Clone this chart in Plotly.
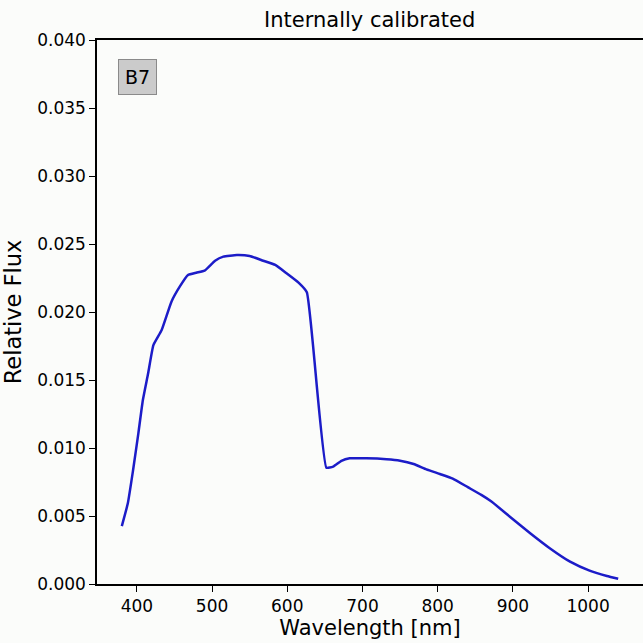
import plotly.graph_objects as go

# Espectro B7
wavelength = [380, 388, 395, 402, 408, 415, 422, 433, 446, 457, 468, 479, 490, 504, 515,
              533, 550, 568, 584, 599, 615, 626, 652, 661, 672, 683, 705, 732, 750, 768,
              785, 803, 820, 840, 858, 871, 896, 923, 949, 976, 1002, 1025, 1040]
flux = [0.00426, 0.00593, 0.00838, 0.01108, 0.01353, 0.01549, 0.01757, 0.01868, 0.02076,
        0.02186, 0.02272, 0.02289, 0.02304, 0.02377, 0.02407, 0.02419, 0.02412, 0.02377,
        0.02346, 0.02285, 0.02216, 0.02145, 0.00855, 0.00863, 0.00906, 0.00924, 0.00924,
        0.00917, 0.00906, 0.00882, 0.00843, 0.00809, 0.00775, 0.00712, 0.00655, 0.00608,
        0.00495, 0.00373, 0.00263, 0.00164, 0.00098, 0.00059, 0.00038]

x_ticks = [400, 500, 600, 700, 800, 900, 1000]
y_ticks = [0.000, 0.005, 0.010, 0.015, 0.020, 0.025, 0.030, 0.035, 0.040]

bg = "#fbfcfa"
font = "DejaVu Sans"

fig = go.Figure()
fig.add_trace(go.Scatter(x=wavelength, y=flux, mode="lines", line_shape="spline",
                         line=dict(color="#1c1cc8", width=2.5, smoothing=0.4),
                         showlegend=False))

fig.add_annotation(text="B7", xref="paper", yref="paper", x=0.038, y=0.965,
                   xanchor="left", yanchor="top", showarrow=False,
                   font=dict(family=font, size=19, color="black"),
                   bgcolor="#cbcbcb", bordercolor="#8a8a8a", borderwidth=1, borderpad=6)

fig.update_xaxes(range=[347, 1073], tickvals=x_ticks, ticktext=[str(v) for v in x_ticks],
                 ticks="outside", ticklen=6, tickwidth=1.3, tickcolor="black",
                 showline=True, linecolor="black", linewidth=1.5, mirror=True,
                 showgrid=False, zeroline=False, automargin=False,
                 tickfont=dict(family=font, size=17, color="black"),
                 title=dict(text="Wavelength [nm]", font=dict(family=font, size=21, color="black"),
                            standoff=4))
fig.update_yaxes(range=[0, 0.04], tickvals=y_ticks, ticktext=[f"{v:.3f}" for v in y_ticks],
                 ticks="outside", ticklen=6, tickwidth=1.3, tickcolor="black",
                 showline=True, linecolor="black", linewidth=1.5,
                 showgrid=False, zeroline=False, automargin=False,
                 tickfont=dict(family=font, size=17, color="black"),
                 title=dict(text="Relative Flux", font=dict(family=font, size=22.5, color="black"),
                            standoff=10))

fig.update_layout(width=643, height=643, plot_bgcolor=bg, paper_bgcolor=bg,
                  margin=dict(l=97, r=0, t=40, b=59),
                  title=dict(text="Internally calibrated", x=0.575, xanchor="center",
                             y=0.969, yanchor="middle", automargin=False,
                             font=dict(family=font, size=21, color="black")))

# quitar el margen por defecto del body para que la figura ocupe toda la ventana
fig.write_html("out.html", config={"displayModeBar": False},
               post_script="document.body.style.margin='0';")
